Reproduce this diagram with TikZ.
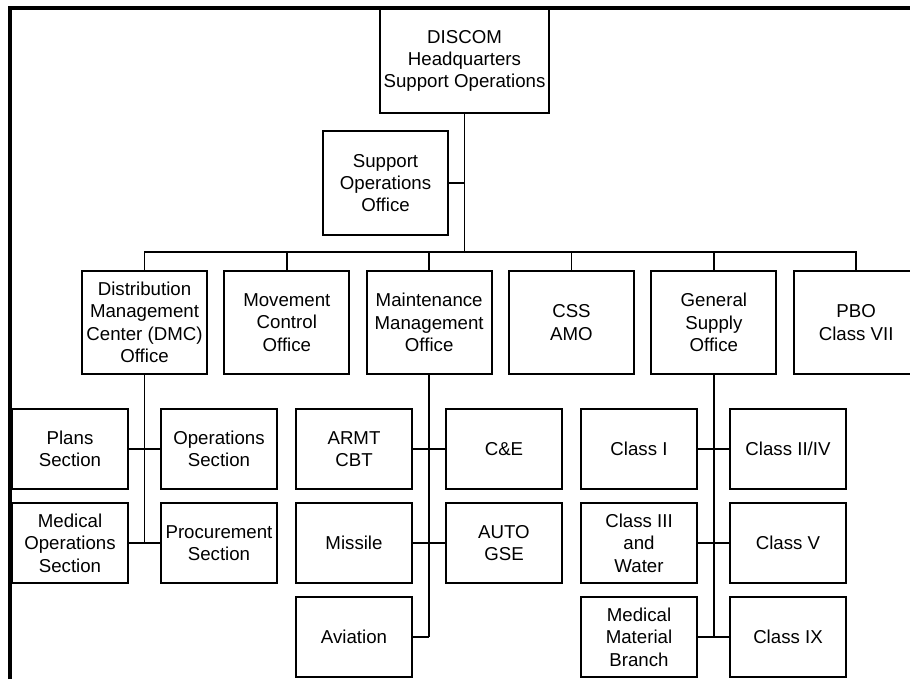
\documentclass[tikz,border=0pt]{standalone}
\usepackage{fontspec}
\setmainfont{Liberation Sans}
\usetikzlibrary{positioning}
\tikzset{
  font=\fontsize{14}{16.8}\selectfont,
  unit/.style={
    draw, line width=1.35pt, align=center, inner sep=0pt, outer sep=0pt,
    minimum width=93.75pt, minimum height=77.25pt
  },
  sect/.style={unit, minimum width=87pt, minimum height=60pt},
  link/.style={line width=1.35pt},
  frame/.style={line width=2.3pt}
}

\begin{document}
\begin{tikzpicture}[x=0.75pt, y=-0.75pt, node distance=13pt]
  \clip (0,0) rectangle (910,679);
  \useasboundingbox (0,0) rectangle (910,679);
  \draw[frame] (10,679) |- (910,8);

  % headquarters and staff office
  \node[unit, minimum width=126.75pt, minimum height=78pt] (hq) at (464.5,61) {DISCOM\\Headquarters\\Support Operations};
  \node[unit, minimum height=78pt] (soo) at (385.5,183) {Support\\Operations\\Office};

  % offices
  \node[unit] (dmc) at (144.5,322.5) {Distribution\\Management\\Center (DMC)\\Office};
  \node[unit, right=of dmc] (mco) {Movement\\Control\\Office};
  \node[unit, right=of mco] (mmo) {Maintenance\\Management\\Office};
  \node[unit, right=of mmo] (css) {CSS\\AMO};
  \node[unit, right=of css] (gso) {General\\Supply\\Office};
  \node[unit, right=of gso] (pbo) {PBO\\Class VII};

  % DMC sections
  \node[sect] (plans) at (70,449) {Plans\\Section};
  \node[sect, right=24.75pt of plans] (opsec) {Operations\\Section};
  \node[sect, below=10.5pt of plans] (medops) {Medical\\Operations\\Section};
  \node[sect, right=24.75pt of medops] (proc) {Procurement\\Section};

  % maintenance sections
  \node[sect] (armt) at (354,449) {ARMT\\CBT};
  \node[sect, right=25.5pt of armt] (ce) {C\&E};
  \node[sect, below=10.5pt of armt] (missile) {Missile};
  \node[sect, right=25.5pt of missile] (auto) {AUTO\\GSE};
  \node[sect, below=10.5pt of missile] (aviation) {Aviation};

  % supply classes
  \node[sect] (cl1) at (639,449) {Class I};
  \node[sect, right=24.75pt of cl1] (cl24) {Class II/IV};
  \node[sect, below=10.5pt of cl1] (cl3) {Class III\\and\\Water};
  \node[sect, right=24.75pt of cl3] (cl5) {Class V};
  \node[sect, below=10.5pt of cl3] (medmat) {Medical\\Material\\Branch};
  \node[sect, right=24.75pt of medmat] (cl9) {Class IX};

  \coordinate (bus) at (464.5,252);
  \draw[link] (hq.south) -- (bus);
  \draw[link] (soo.east) -- (soo.east -| hq.south);
  \draw[link] (dmc.north) |- (bus) -| (pbo.north);
  \foreach \n in {mco,mmo,css,gso}
    \draw[link] (\n.north) -- (\n.north |- bus);

  \draw[link] (dmc.south) -- (dmc.south |- proc.west);
  \draw[link] (plans) -- (opsec);
  \draw[link] (medops) -- (proc);

  \draw[link] (mmo.south) -- (mmo.south |- aviation.east);
  \draw[link] (armt) -- (ce);
  \draw[link] (missile) -- (auto);
  \draw[link] (aviation.east) -- (aviation.east -| mmo.south);

  \draw[link] (gso.south) -- (gso.south |- medmat.east);
  \draw[link] (cl1) -- (cl24);
  \draw[link] (cl3) -- (cl5);
  \draw[link] (medmat) -- (cl9);
\end{tikzpicture}
\end{document}
